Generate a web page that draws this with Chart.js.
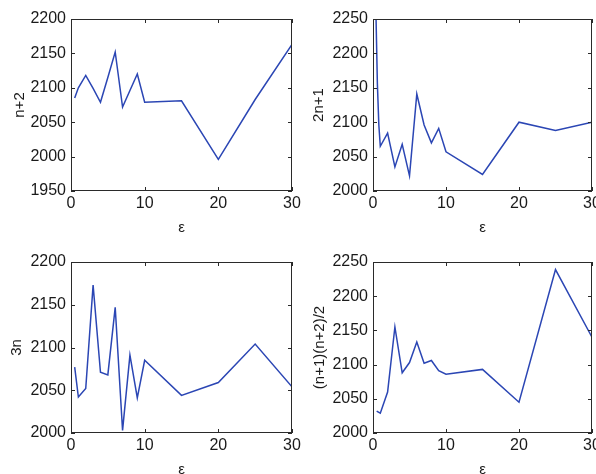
<!DOCTYPE html>
<html><head><meta charset="utf-8">
<script src="https://cdn.jsdelivr.net/npm/chart.js@4/dist/chart.umd.min.js"></script>
<style>
html,body{margin:0;padding:0;background:#fff;}
#wrap{position:relative;width:596px;height:474px;overflow:hidden;background:#fff;}
#wrap canvas{position:absolute;}
</style></head><body>
<div id="wrap">
<canvas id="c1" width="310" height="237" style="left:0;top:0"></canvas>
<canvas id="c3" width="310" height="239" style="left:0;top:240px"></canvas>
<canvas id="c2" width="298" height="237" style="left:298px;top:0"></canvas>
<canvas id="c4" width="298" height="239" style="left:298px;top:240px"></canvas>
</div>
<script>
// ---- data ----
const eps = [0.5, 1, 2, 3, 4, 5, 6, 7, 8, 9, 10, 15, 20, 25, 30];
const nPlus2 = [2085, 2100, 2118, 2099, 2079, 2115, 2152, 2072, 2096, 2120, 2079, 2081, 1996, 2083, 2163];
const eps2 = [0.4, 0.6, 0.8, 1, 2, 3, 4, 5, 6, 7, 8, 9, 10, 15, 20, 25, 30];
const twoNPlus1 = [2260, 2156, 2096, 2065, 2084, 2035, 2068, 2022, 2141, 2096, 2070, 2091, 2057, 2024, 2100, 2088, 2100];
const threeN = [2077, 2042, 2052, 2173, 2071, 2068, 2147, 2003, 2091, 2041, 2085, 2044, 2059, 2104, 2054];
const triN = [2032, 2029, 2060, 2155, 2088, 2103, 2133, 2102, 2106, 2091, 2086, 2093, 2045, 2239, 2140];
const xTicks = [0, 10, 20, 30];
const yTicks1 = [1950, 2000, 2050, 2100, 2150, 2200];
const yTicks2 = [2000, 2050, 2100, 2150, 2200, 2250];
const yTicks3 = [2000, 2050, 2100, 2150, 2200];
const yTicks4 = [2000, 2050, 2100, 2150, 2200, 2250];
const xTitle = 'ε';

Chart.defaults.font.family = "'Liberation Sans', Arial, Helvetica, sans-serif";
Chart.defaults.font.size = 15;
Chart.defaults.color = '#1a1a1a';

const frame = {
  id: 'frame',
  afterDraw(chart) {
    const {ctx, chartArea: a} = chart;
    const xs = chart.scales.x, ys = chart.scales.y;
    ctx.save();
    ctx.strokeStyle = '#2a2a2a';
    ctx.lineWidth = 1;
    ctx.strokeRect(a.left + 0.5, a.top + 0.5, a.right - a.left - 1, a.bottom - a.top - 1);
    const L = 4;
    ctx.beginPath();
    xs.ticks.forEach(t => {
      const px = Math.round(xs.getPixelForValue(t.value)) + 0.5;
      ctx.moveTo(px, a.bottom); ctx.lineTo(px, a.bottom - L);
      ctx.moveTo(px, a.top); ctx.lineTo(px, a.top + L);
    });
    ys.ticks.forEach(t => {
      const py = Math.round(ys.getPixelForValue(t.value)) + 0.5;
      ctx.moveTo(a.left, py); ctx.lineTo(a.left + L, py);
      ctx.moveTo(a.right, py); ctx.lineTo(a.right - L, py);
    });
    ctx.stroke();
    ctx.restore();
  }
};

function make(id, xs, ys, yTickVals, yLabel, geo) {
  const cv = document.getElementById(id);
  const W = cv.width, H = cv.height;
  new Chart(cv, {
    type: 'line',
    data: { datasets: [{
      data: xs.map((x, i) => ({x: x, y: ys[i]})),
      borderColor: '#2b46b4', borderWidth: 1.5, pointRadius: 0, tension: 0, fill: false
    }]},
    options: {
      responsive: false, animation: false, devicePixelRatio: 1,
      layout: { padding: { left: 0, top: geo.top, right: W - geo.right, bottom: 0 } },
      plugins: { legend: { display: false }, tooltip: { enabled: false } },
      scales: {
        x: {
          type: 'linear', min: 0, max: 30,
          afterBuildTicks: s => { s.ticks = xTicks.map(v => ({value: v})); },
          ticks: { padding: 3, maxRotation: 0, font: { size: 16 }, callback: v => String(v) },
          grid: { display: false, drawTicks: false }, border: { display: false },
          title: { display: true, text: xTitle, padding: { top: 0, bottom: 0 } },
          afterFit: s => { s.height = H - geo.bottom; s.paddingLeft = 0; s.paddingRight = 0; }
        },
        y: {
          type: 'linear', min: yTickVals[0], max: yTickVals[yTickVals.length - 1],
          afterBuildTicks: s => { s.ticks = yTickVals.map(v => ({value: v})); },
          ticks: { padding: 5, font: { size: 16 }, callback: v => String(v) },
          grid: { display: false, drawTicks: false }, border: { display: false },
          title: { display: true, text: yLabel, padding: { top: geo.tpad, bottom: 0 } },
          afterFit: s => { s.width = geo.left; s.paddingTop = 0; s.paddingBottom = 0; }
        }
      }
    },
    plugins: [frame]
  });
}

make('c1', eps, nPlus2, yTicks1, 'n+2', {left: 71, right: 292, top: 19, bottom: 191, tpad: 11});
make('c3', eps, threeN, yTicks3, '3n', {left: 71, right: 292, top: 22, bottom: 193, tpad: 8});
make('c2', eps2, twoNPlus1, yTicks2, '2n+1', {left: 75, right: 294, top: 19, bottom: 191, tpad: 12});
make('c4', eps, triN, yTicks4, '(n+1)(n+2)/2', {left: 75, right: 294, top: 22, bottom: 193, tpad: 13});
</script>
</body></html>
